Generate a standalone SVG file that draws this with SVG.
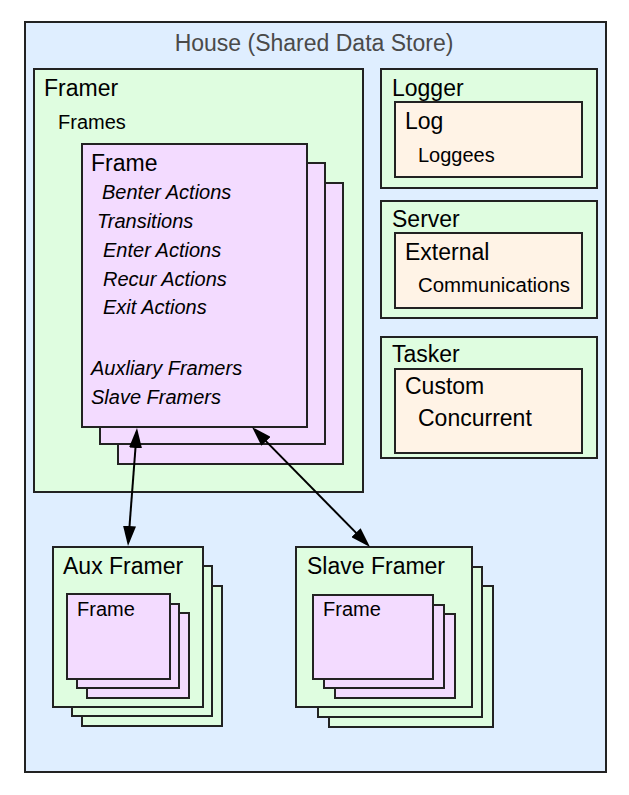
<svg xmlns="http://www.w3.org/2000/svg" width="629" height="795" viewBox="0 0 629 795">
<style>
text{font-family:"Liberation Sans",Arial,sans-serif;fill:#000}
.house{fill:#dfeeff;stroke:#222;stroke-width:2}
.g{fill:#dffde0;stroke:#222;stroke-width:2}
.p{fill:#f3dbff;stroke:#222;stroke-width:2}
.o{fill:#fff3e6;stroke:#222;stroke-width:2}
.t23{font-size:23px}
.t20{font-size:20px}
.it{font-size:20px;font-style:italic}
.title{font-size:23px;fill:#4a4a4a}
.conn{stroke:#000;stroke-width:2;fill:none;marker-start:url(#ah);marker-end:url(#ah)}
</style>
<defs>
<marker id="ah" viewBox="0 0 20 13" refX="16" refY="6.5" markerWidth="20" markerHeight="13" markerUnits="userSpaceOnUse" orient="auto-start-reverse">
<path d="M0,0 L20,6.5 L0,13 z" fill="#000"/>
</marker>
</defs>
<g id="house">
<rect class="house" x="25" y="22" width="581" height="750"/>
<text class="title" x="314" y="51" text-anchor="middle">House (Shared Data Store)</text>
</g>
<g id="framer">
<rect class="g" x="34" y="69" width="329" height="423"/>
<text class="t23" x="44" y="96">Framer</text>
<text class="t20" x="58" y="129">Frames</text>
</g>
<g id="frame">
<rect class="p" x="118" y="183" width="225" height="281"/>
<rect class="p" x="100" y="163" width="225" height="281"/>
<rect class="p" x="82" y="144" width="225" height="283"/>
<text class="t23" x="91" y="171">Frame</text>
<text class="it" x="102" y="199">Benter Actions</text>
<text class="it" x="97" y="228">Transitions</text>
<text class="it" x="103" y="257">Enter Actions</text>
<text class="it" x="103" y="286">Recur Actions</text>
<text class="it" x="103" y="314">Exit Actions</text>
<text class="it" x="91" y="375">Auxliary Framers</text>
<text class="it" x="91" y="404">Slave Framers</text>
</g>
<g id="logger">
<rect class="g" x="381" y="69" width="216" height="119"/>
<text class="t23" x="392" y="96">Logger</text>
<rect class="o" x="395" y="102" width="187" height="75"/>
<text class="t23" x="405" y="129">Log</text>
<text class="t20" x="418" y="162">Loggees</text>
</g>
<g id="server">
<rect class="g" x="381" y="201" width="216" height="117"/>
<text class="t23" x="392" y="227">Server</text>
<rect class="o" x="395" y="233" width="187" height="75"/>
<text class="t23" x="405" y="260">External</text>
<text class="t20" x="418" y="292" textLength="152" lengthAdjust="spacingAndGlyphs">Communications</text>
</g>
<g id="tasker">
<rect class="g" x="381" y="337" width="216" height="121"/>
<text class="t23" x="392" y="362">Tasker</text>
<rect class="o" x="395" y="369" width="187" height="84"/>
<text class="t23" x="405" y="394">Custom</text>
<text class="t23" x="418" y="426">Concurrent</text>
</g>
<g id="aux-framer">
<rect class="g" x="82" y="586" width="140" height="140"/>
<rect class="g" x="72" y="566" width="140" height="150"/>
<rect class="g" x="53" y="547" width="150" height="160"/>
<text class="t23" x="63" y="574">Aux Framer</text>
<rect class="p" x="87" y="613" width="102" height="85"/>
<rect class="p" x="77" y="604" width="102" height="84"/>
<rect class="p" x="67" y="594" width="103" height="85"/>
<text class="t20" x="77" y="616">Frame</text>
</g>
<g id="slave-framer">
<rect class="g" x="329" y="586" width="164" height="141"/>
<rect class="g" x="318" y="567" width="164" height="150"/>
<rect class="g" x="296" y="547" width="176" height="160"/>
<text class="t23" x="307" y="574">Slave Framer</text>
<rect class="p" x="335" y="614" width="120" height="84"/>
<rect class="p" x="324" y="605" width="120" height="83"/>
<rect class="p" x="313" y="595" width="120" height="84"/>
<text class="t20" x="323" y="616">Frame</text>
</g>
<g id="connectors">
<line class="conn" x1="136.7" y1="432" x2="128.3" y2="542"/>
<line class="conn" x1="254.8" y1="429.9" x2="367.2" y2="544.1"/>
</g>
</svg>
